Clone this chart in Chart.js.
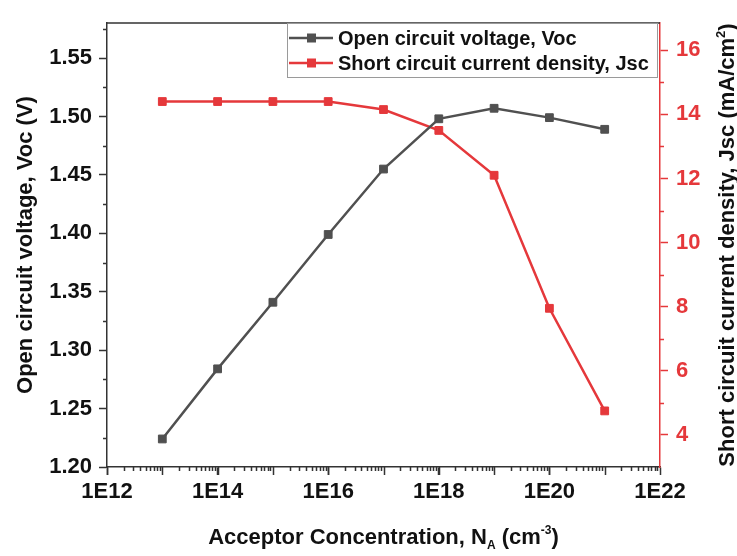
<!DOCTYPE html>
<html>
<head>
<meta charset="utf-8">
<script src="https://cdn.jsdelivr.net/npm/chart.js@4.4.0/dist/chart.umd.min.js"></script>
<style>
html, body { margin: 0; padding: 0; background: #fff; }
</style>
</head>
<body>
<canvas id="Chart" width="737" height="556"></canvas>
<script>
// values
const concentration = [1e13, 1e14, 1e15, 1e16, 1e17, 1e18, 1e19, 1e20, 1e21];
const voc = [1.224, 1.284, 1.341, 1.399, 1.455, 1.498, 1.507, 1.499, 1.489];
const jsc = [14.4, 14.4, 14.4, 14.4, 14.15, 13.5, 12.1, 7.95, 4.75];
const xTickExponents = [12, 14, 16, 18, 20, 22];
const vocTicks = [1.20, 1.25, 1.30, 1.35, 1.40, 1.45, 1.50, 1.55];
const jscTicks = [4, 6, 8, 10, 12, 14, 16];

const FONT = "'Liberation Sans', Arial, sans-serif";
const GRAY = '#505050';
const RED = '#e5383b';
const AXIS = '#333333';

function points(ys) {
    return concentration.map((c, i) => ({ x: c, y: ys[i] }));
}

// text made of pieces, for sub- and superscripts
function drawParts(ctx, parts, cx, baseY) {
    let total = 0;
    parts.forEach(p => {
        ctx.font = 'bold ' + p.s + 'px ' + FONT;
        p.w = ctx.measureText(p.t).width;
        total += p.w;
    });
    let x = cx - total / 2;
    ctx.textAlign = 'left';
    ctx.textBaseline = 'alphabetic';
    parts.forEach(p => {
        ctx.font = 'bold ' + p.s + 'px ' + FONT;
        ctx.fillText(p.t, x, baseY + p.dy);
        x += p.w;
    });
}

// minor ticks, top frame, legend box and titles
const extras = {
    id: 'extras',
    afterDraw(chart) {
        const ctx = chart.ctx;
        const { left, right, top, bottom } = chart.chartArea;
        const x = chart.scales.x, y = chart.scales.y, y1 = chart.scales.y1;
        ctx.save();
        ctx.lineWidth = 1.5;
        ctx.strokeStyle = AXIS;
        ctx.beginPath();
        ctx.moveTo(left, top);
        ctx.lineTo(right, top);
        for (let e = 12; e < 22; e++) {
            for (let k = 1; k <= 9; k++) {
                const px = Math.round(x.getPixelForValue(k * Math.pow(10, e))) + 0.5;
                const len = k === 1 ? 8 : 4;
                ctx.moveTo(px, bottom);
                ctx.lineTo(px, bottom + len);
            }
        }
        for (let v = 1.225; v < 1.58; v += 0.05) {
            const py = Math.round(y.getPixelForValue(v)) + 0.5;
            ctx.moveTo(left, py);
            ctx.lineTo(left - 4, py);
        }
        ctx.stroke();

        ctx.strokeStyle = RED;
        ctx.beginPath();
        for (let v = 5; v <= 15; v += 2) {
            const py = Math.round(y1.getPixelForValue(v)) + 0.5;
            ctx.moveTo(right, py);
            ctx.lineTo(right + 4, py);
        }
        ctx.stroke();

        // legend
        const bx = 287, by = 23, bw = 370, bh = 54;
        ctx.fillStyle = '#fff';
        ctx.fillRect(bx, by, bw, bh);
        ctx.strokeStyle = '#9a9a9a';
        ctx.lineWidth = 1;
        ctx.strokeRect(bx + 0.5, by + 0.5, bw, bh);
        chart.data.datasets.forEach((ds, i) => {
            const ry = 38 + i * 25;
            ctx.strokeStyle = ds.borderColor;
            ctx.lineWidth = 2.5;
            ctx.beginPath();
            ctx.moveTo(289, ry);
            ctx.lineTo(333, ry);
            ctx.stroke();
            ctx.fillStyle = ds.pointBackgroundColor;
            ctx.fillRect(307, ry - 4.5, 9, 9);
            ctx.fillStyle = '#111';
            ctx.font = 'bold 20px ' + FONT;
            ctx.textBaseline = 'middle';
            ctx.textAlign = 'left';
            ctx.fillText(ds.label, 338, ry + 1);
        });

        ctx.fillStyle = '#111';
        // x title
        drawParts(ctx, [
            { t: 'Acceptor Concentration, N', s: 22, dy: 0 },
            { t: 'A', s: 12, dy: 5 },
            { t: ' (cm', s: 22, dy: 0 },
            { t: '-3', s: 12, dy: -10 },
            { t: ')', s: 22, dy: 0 }
        ], (left + right) / 2, 544);

        // right title, reading upwards
        ctx.save();
        ctx.translate(726, (top + bottom) / 2);
        ctx.rotate(-Math.PI / 2);
        drawParts(ctx, [
            { t: 'Short circuit current density, Jsc (mA/cm', s: 22, dy: 0 },
            { t: '2', s: 13, dy: -9 },
            { t: ')', s: 22, dy: 0 }
        ], 0, 8);
        ctx.restore();
        ctx.restore();
    }
};

new Chart(document.getElementById('Chart'), {
    type: 'line',
    data: {
        datasets: [{
            label: 'Open circuit voltage, Voc',
            data: points(voc),
            yAxisID: 'y',
            borderColor: GRAY,
            backgroundColor: GRAY,
            pointBackgroundColor: GRAY,
            pointBorderColor: GRAY,
            pointStyle: 'rect',
            pointRadius: 5.5,
            pointBorderWidth: 1,
            borderWidth: 2.5
        }, {
            label: 'Short circuit current density, Jsc',
            data: points(jsc),
            yAxisID: 'y1',
            borderColor: RED,
            backgroundColor: RED,
            pointBackgroundColor: RED,
            pointBorderColor: RED,
            pointStyle: 'rect',
            pointRadius: 5.5,
            pointBorderWidth: 1,
            borderWidth: 2.5
        }]
    },
    options: {
        responsive: false,
        animation: false,
        layout: { padding: { top: 23, left: 0, right: 0, bottom: 0 } },
        plugins: { legend: { display: false }, tooltip: { enabled: false } },
        scales: {
            x: {
                type: 'logarithmic',
                position: 'bottom',
                min: 1e12,
                max: 1e22,
                afterBuildTicks: s => { s.ticks = xTickExponents.map(e => ({ value: Math.pow(10, e) })); },
                afterFit: s => { s.height = 89; },
                grid: { drawOnChartArea: false, tickLength: 8, tickColor: AXIS, tickWidth: 1.5 },
                border: { color: AXIS, width: 1.5 },
                ticks: {
                    color: '#111',
                    padding: 4,
                    autoSkip: false,
                    maxRotation: 0,
                    font: { family: FONT, size: 22, weight: 'bold' },
                    callback: v => '1E' + Math.round(Math.log10(v))
                }
            },
            y: {
                position: 'left',
                min: 1.2,
                max: 1.58,
                afterBuildTicks: s => { s.ticks = vocTicks.map(v => ({ value: v })); },
                afterFit: s => { s.width = 107; },
                grid: { drawOnChartArea: false, tickLength: 8, tickColor: AXIS, tickWidth: 1.5 },
                border: { color: AXIS, width: 1.5 },
                ticks: {
                    color: '#111',
                    padding: 7,
                    font: { family: FONT, size: 22, weight: 'bold' },
                    callback: v => v.toFixed(2)
                },
                title: {
                    display: true,
                    text: 'Open circuit voltage, Voc (V)',
                    color: '#111',
                    padding: { top: 15, bottom: 0 },
                    font: { family: FONT, size: 22, weight: 'bold', lineHeight: 1 }
                }
            },
            y1: {
                position: 'right',
                min: 3,
                max: 16.85,
                afterBuildTicks: s => { s.ticks = jscTicks.map(v => ({ value: v })); },
                afterFit: s => { s.width = 77; },
                grid: { drawOnChartArea: false, tickLength: 8, tickColor: RED, tickWidth: 1.5 },
                border: { color: RED, width: 1.5 },
                ticks: {
                    color: RED,
                    padding: 8,
                    font: { family: FONT, size: 22, weight: 'bold' },
                    callback: v => String(v)
                }
            }
        }
    },
    plugins: [extras]
});
</script>
</body>
</html>
